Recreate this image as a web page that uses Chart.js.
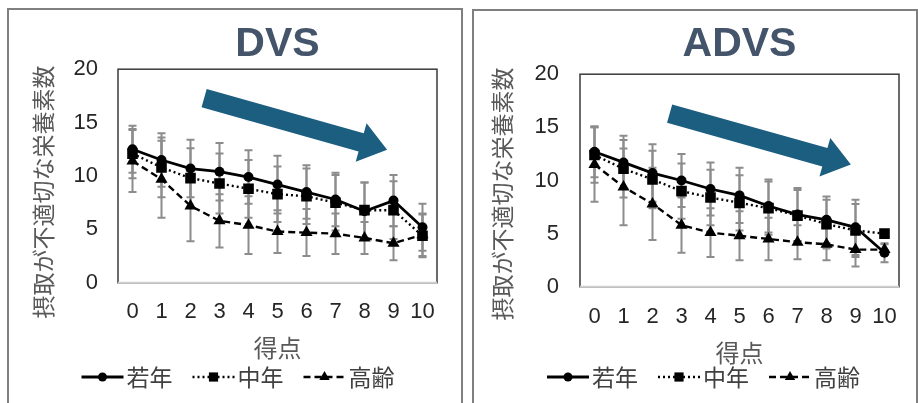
<!DOCTYPE html>
<html>
<head>
    <meta charset="utf-8"/>
    <title>DVS / ADVS</title>
    <script src="https://cdn.jsdelivr.net/npm/chart.js@4.4.1/dist/chart.umd.min.js"></script>
    <style>
        body { margin: 0; background: #ffffff; overflow: hidden; }
        .panel { position: absolute; border: 2px solid #7f7f7f; border-bottom: none; }
        canvas { display: block; }
    </style>
</head>
<body>

    <div class="panel" style="left: 7px; top: 8px;"><canvas id="dvsChart" width="452" height="393"></canvas></div>
    <div class="panel" style="left: 472px; top: 9px;"><canvas id="advsChart" width="442" height="392"></canvas></div>

    <script>
        // categories and tick labels
        const scores = ['0', '1', '2', '3', '4', '5', '6', '7', '8', '9', '10'];
        const yTickValues = [0, 5, 10, 15, 20];
        const groupNames = ['若年', '中年', '高齢'];
        const yTitle = '摂取が不適切な栄養素数';
        const xTitle = '得点';

        // DVS: means
        const dvsYoung = [12.5, 11.5, 10.7, 10.4, 9.9, 9.2, 8.5, 7.8, 6.7, 7.7, 5.2];
        const dvsMiddle = [12.1, 10.8, 9.8, 9.3, 8.8, 8.3, 8.1, 7.5, 6.8, 6.8, 4.4];
        const dvsOld = [11.4, 9.7, 7.2, 5.8, 5.4, 4.8, 4.7, 4.6, 4.2, 3.7, 4.5];
        // DVS: standard deviations
        const dvsYoungSd = [2.2, 2.5, 2.7, 2.7, 2.5, 2.7, 2.5, 2.5, 2.7, 2.4, 2.2];
        const dvsMiddleSd = [2.3, 2.8, 2.8, 2.8, 2.7, 2.6, 2.6, 2.6, 2.6, 2.7, 2.0];
        const dvsOldSd = [2.9, 3.6, 3.3, 2.5, 2.7, 2.0, 2.2, 1.9, 1.5, 1.6, 2.0];

        // ADVS: means
        const advsYoung = [12.7, 11.7, 10.7, 10.0, 9.2, 8.6, 7.6, 6.8, 6.3, 5.6, 3.2];
        const advsMiddle = [12.4, 11.1, 10.1, 9.0, 8.4, 7.9, 7.4, 6.7, 5.9, 5.3, 5.0];
        const advsOld = [11.5, 9.4, 7.8, 5.8, 5.1, 4.8, 4.5, 4.2, 4.0, 3.5, 3.5];
        // ADVS: standard deviations
        const advsYoungSd = [2.4, 2.5, 2.7, 2.5, 2.5, 2.6, 2.5, 2.5, 2.2, 2.6, 0.9];
        const advsMiddleSd = [2.6, 2.7, 2.7, 2.6, 2.6, 2.6, 2.5, 2.4, 2.3, 2.5, 0];
        const advsOldSd = [3.5, 3.6, 3.4, 2.6, 2.3, 2.3, 2.0, 1.6, 1.5, 1.6, 0.5];

        const ink = '#000000';
        const numFont = 'Liberation Sans';
        const jpFont = 'Noto Sans CJK JP';

        // three groups, same look in both panels
        function groupSets(young, middle, old, youngSd, middleSd, oldSd) {
            return [
                { label: groupNames[0], data: young, sd: youngSd, borderColor: ink, backgroundColor: ink,
                  pointBackgroundColor: ink, pointBorderWidth: 0, borderWidth: 2.8, borderDash: [],
                  pointStyle: 'circle', pointRadius: 5, legendRadius: 4.5 },
                { label: groupNames[1], data: middle, sd: middleSd, borderColor: ink, backgroundColor: ink,
                  pointBackgroundColor: ink, pointBorderWidth: 0, borderWidth: 2.4, borderDash: [2, 3],
                  pointStyle: 'rect', pointRadius: 7.5, legendRadius: 6.5 },
                { label: groupNames[2], data: old, sd: oldSd, borderColor: ink, backgroundColor: ink,
                  pointBackgroundColor: ink, pointBorderWidth: 0, borderWidth: 2.4, borderDash: [7, 4],
                  pointStyle: 'triangle', pointRadius: 7, legendRadius: 6 }
            ];
        }

        // frame, arrow, error bars, rotated y title and the line+marker legend
        const panelDecor = {
            id: 'panelDecor',
            beforeDatasetsDraw(chart, args, opts) {
                const { ctx, chartArea: a, scales: { x, y } } = chart;
                ctx.save();

                // plot frame
                ctx.strokeStyle = '#3a3a3a';
                ctx.lineWidth = 1.5;
                ctx.strokeRect(a.left, a.top, a.width, a.height);
                ctx.strokeStyle = '#d0d0d0';
                ctx.lineWidth = 2;
                ctx.beginPath();
                ctx.moveTo(a.left, a.bottom);
                ctx.lineTo(a.right, a.bottom);
                ctx.stroke();

                // trend arrow, placed in data units
                const x0 = x.getPixelForValue(opts.arrowFrom[0]), y0 = y.getPixelForValue(opts.arrowFrom[1]);
                const x1 = x.getPixelForValue(opts.arrowTo[0]), y1 = y.getPixelForValue(opts.arrowTo[1]);
                const len = Math.hypot(x1 - x0, y1 - y0);
                const ux = (x1 - x0) / len, uy = (y1 - y0) / len;
                const nx = -uy, ny = ux;
                const w = 9.5, hw = 20, hl = 27;
                const bx = x1 - ux * hl, by = y1 - uy * hl;
                ctx.fillStyle = '#1c5e80';
                ctx.beginPath();
                ctx.moveTo(x0 + nx * w, y0 + ny * w);
                ctx.lineTo(bx + nx * w, by + ny * w);
                ctx.lineTo(bx + nx * hw, by + ny * hw);
                ctx.lineTo(x1, y1);
                ctx.lineTo(bx - nx * hw, by - ny * hw);
                ctx.lineTo(bx - nx * w, by - ny * w);
                ctx.lineTo(x0 - nx * w, y0 - ny * w);
                ctx.closePath();
                ctx.fill();

                // error bars (mean +/- sd)
                ctx.strokeStyle = '#8c8c8c';
                ctx.lineWidth = 2;
                chart.data.datasets.forEach(ds => {
                    ds.data.forEach((v, j) => {
                        const sd = ds.sd[j];
                        if (!sd) return;
                        const px = x.getPixelForValue(j);
                        const top = y.getPixelForValue(v + sd);
                        const bot = y.getPixelForValue(v - sd);
                        ctx.beginPath();
                        ctx.moveTo(px, top); ctx.lineTo(px, bot);
                        ctx.moveTo(px - 4, top); ctx.lineTo(px + 4, top);
                        ctx.moveTo(px - 4, bot); ctx.lineTo(px + 4, bot);
                        ctx.stroke();
                    });
                });
                ctx.restore();
            },
            afterDraw(chart, args, opts) {
                const ctx = chart.ctx;

                // y axis title
                ctx.save();
                ctx.font = '23px "' + jpFont + '"';
                ctx.fillStyle = '#595959';
                ctx.translate(opts.yTitleX, opts.yTitleY);
                ctx.rotate(-Math.PI / 2);
                ctx.textAlign = 'center';
                ctx.textBaseline = 'middle';
                ctx.fillText(yTitle, 0, 0);
                ctx.restore();

                // legend
                ctx.save();
                ctx.font = '23px "' + jpFont + '"';
                const sampleW = 42, gap = 3, space = 20;
                const items = chart.data.datasets.map(ds => ({ ds: ds, w: ctx.measureText(ds.label).width }));
                const total = items.reduce((s, it) => s + sampleW + gap + it.w, 0) + space * (items.length - 1);
                let cx = opts.legendX - total / 2;
                const ly = opts.legendY;
                items.forEach(it => {
                    const ds = it.ds;
                    ctx.strokeStyle = ds.borderColor;
                    ctx.lineWidth = ds.borderWidth;
                    ctx.setLineDash(ds.borderDash);
                    ctx.beginPath();
                    ctx.moveTo(cx, ly);
                    ctx.lineTo(cx + sampleW, ly);
                    ctx.stroke();
                    ctx.setLineDash([]);
                    ctx.fillStyle = ds.pointBackgroundColor;
                    Chart.helpers.drawPoint(ctx, { pointStyle: ds.pointStyle, radius: ds.legendRadius, rotation: 0, borderWidth: 0 },
                        cx + sampleW / 2, ly);
                    ctx.fillStyle = '#404040';
                    ctx.textAlign = 'left';
                    ctx.textBaseline = 'middle';
                    ctx.fillText(ds.label, cx + sampleW + gap, ly);
                    cx += sampleW + gap + it.w + space;
                });
                ctx.restore();
            }
        };

        function makePanel(canvasId, title, datasets, look) {
            const ctx = document.getElementById(canvasId).getContext('2d');
            return new Chart(ctx, {
                type: 'line',
                data: { labels: scores, datasets: datasets },
                options: {
                    responsive: false,
                    animation: false,
                    layout: { padding: look.padding },
                    plugins: {
                        legend: { display: false },
                        tooltip: { enabled: false },
                        title: {
                            display: true,
                            text: title,
                            fullSize: false,
                            color: '#44546A',
                            font: { family: numFont, size: 41, weight: 'bold' },
                            padding: look.titlePadding
                        },
                        panelDecor: look.decor
                    },
                    scales: {
                        x: {
                            type: 'category',
                            offset: true,
                            grid: { display: false, drawTicks: false, tickLength: 0 },
                            border: { display: false },
                            ticks: { color: '#262626', font: { family: numFont, size: 22 }, padding: look.xTickPad,
                                     autoSkip: false, maxRotation: 0 },
                            // the scale reserves the tick padding twice, so the title padding takes it back
                            title: { display: true, text: xTitle, color: '#595959',
                                     font: { family: jpFont, size: 24 }, padding: { top: look.xTitlePad, bottom: 0 } }
                        },
                        y: {
                            min: 0,
                            max: 20,
                            afterBuildTicks: s => { s.ticks = yTickValues.map(v => ({ value: v })); },
                            afterFit: s => { s.width = look.yWidth; },
                            grid: { display: false, drawTicks: false, tickLength: 0 },
                            border: { display: false },
                            ticks: { color: '#262626', font: { family: numFont, size: 22 }, padding: look.yTickPad }
                        }
                    }
                },
                plugins: [panelDecor]
            });
        }

        makePanel('dvsChart', 'DVS',
            groupSets(dvsYoung, dvsMiddle, dvsOld, dvsYoungSd, dvsMiddleSd, dvsOldSd),
            {
                padding: { left: 30, right: 24, top: 0, bottom: 41 },
                titlePadding: { top: 10, bottom: 0 },
                yWidth: 79, yTickPad: 20, xTickPad: 16, xTitlePad: -8,
                decor: { arrowFrom: [2.47, 17.3], arrowTo: [8.78, 12.45], yTitleX: 34, yTitleY: 182, legendX: 229, legendY: 367 }
            });

        makePanel('advsChart', 'ADVS',
            groupSets(advsYoung, advsMiddle, advsOld, advsYoungSd, advsMiddleSd, advsOldSd),
            {
                padding: { left: 34, right: 17, top: 0, bottom: 36 },
                titlePadding: { top: 9, bottom: 5 },
                yWidth: 72, yTickPad: 21, xTickPad: 17, xTitlePad: -9,
                decor: { arrowFrom: [2.59, 16.3], arrowTo: [8.84, 11.5], yTitleX: 28, yTitleY: 183, legendX: 229.5, legendY: 366 }
            });
    </script>

</body>
</html>
